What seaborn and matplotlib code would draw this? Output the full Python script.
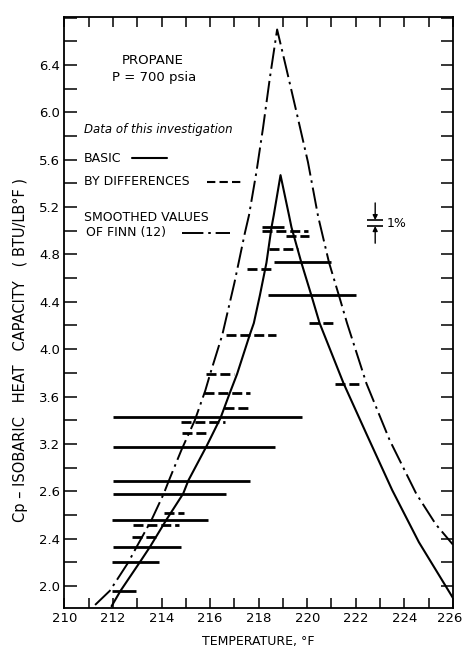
import numpy as np
import pandas as pd
import matplotlib
matplotlib.use("Agg")
import matplotlib.pyplot as plt
import matplotlib.transforms as mtransforms
from matplotlib.ticker import MultipleLocator
import seaborn as sns

# ---------------- data ----------------
x_ticks = [210, 212, 214, 216, 218, 220, 222, 224, 226]
x_tick_labels = ["210", "212", "214", "216", "218", "220", "222", "224", "226"]
y_ticks = [2.0, 2.4, 2.8, 3.2, 3.6, 4.0, 4.4, 4.8, 5.2, 5.6, 6.0, 6.4]
y_tick_labels = ["2.0", "2.4", "2.6", "3.2", "3.6", "4.0", "4.4", "4.8", "5.2", "5.6", "6.0", "6.4"]

# smoothed curve through data of this investigation (solid)
basic_curve_temp = [211.94, 212.31, 213.10, 213.52, 214.20, 214.89, 215.10, 215.85, 216.43,
                    216.81, 217.11, 217.63, 217.80, 218.05, 218.32, 218.53, 218.62, 218.90,
                    219.25, 219.35, 219.76, 220.17, 220.51, 221.50, 222.45, 223.50, 224.60, 226.00]
basic_curve_cp = [1.83, 1.96, 2.20, 2.33, 2.56, 2.78, 2.89, 3.18, 3.42,
                  3.63, 3.79, 4.12, 4.22, 4.455, 4.73, 5.03, 5.13, 5.47,
                  5.13, 5.03, 4.73, 4.455, 4.22, 3.71, 3.28, 2.81, 2.37, 1.90]

# smoothed values of Finn (12) (dash-dot)
finn_curve_temp = [211.26, 211.87, 212.63, 212.97, 213.59, 214.09, 214.30, 214.82, 215.37,
                   215.80, 216.00, 216.50, 217.00, 217.43, 217.60, 217.91, 218.18, 218.46,
                   218.76, 219.14, 219.56, 220.03, 220.45, 220.90, 221.34, 221.64, 222.44,
                   223.40, 224.49, 225.30, 226.00]
finn_curve_cp = [1.84, 1.96, 2.20, 2.33, 2.56, 2.78, 2.89, 3.15, 3.40,
                 3.65, 3.79, 4.12, 4.56, 4.98, 5.13, 5.50, 5.87, 6.29,
                 6.70, 6.37, 6.00, 5.58, 5.12, 4.73, 4.43, 4.22, 3.71,
                 3.23, 2.78, 2.52, 2.35]

# BASIC data bars (solid)
basic_bar_cp = [3.424, 3.176, 2.889, 2.776, 2.557, 2.326, 2.202, 1.957, 4.733, 4.455, 5.03]
basic_bar_t_low = [211.98, 212.0, 212.0, 212.0, 211.97, 212.0, 211.97, 211.97, 218.62, 218.39, 218.14]
basic_bar_t_high = [219.8, 218.66, 217.66, 216.65, 215.92, 214.78, 213.89, 212.93, 220.99, 222.02, 219.05]

# BY DIFFERENCES data bars (dashed)
diff_bar_cp = [5.00, 4.958, 4.85, 4.677, 4.223, 4.122, 3.79, 3.705, 3.632, 3.50, 3.382, 3.29,
               2.613, 2.512, 2.416]
diff_bar_t_low = [218.14, 219.11, 218.43, 217.52, 220.06, 216.65, 215.85, 221.14, 215.74, 216.56,
                  214.78, 214.85, 214.10, 212.83, 212.77]
diff_bar_t_high = [220.03, 220.07, 219.62, 218.59, 221.13, 218.70, 216.98, 222.16, 217.66, 217.70,
                   216.60, 215.88, 214.92, 214.72, 213.82]

# 1 % scale marker
one_pct_cp = [5.04, 5.09]
one_pct_t = [222.48, 223.12]

# ---------------- style ----------------
sns.set_style("ticks")
plt.rcParams['font.family'] = ['DejaVu Sans']
plt.rcParams.update({
    'axes.edgecolor': 'black', 'text.color': 'black', 'axes.labelcolor': 'black',
    'xtick.color': 'black', 'ytick.color': 'black',
    'xtick.labelcolor': 'black', 'ytick.labelcolor': 'black',
})

fig = plt.figure(figsize=(4.64, 6.48), dpi=100)
ax = fig.add_axes([0.139, 0.0617, 0.837, 0.912])

basic_df = pd.DataFrame({"T": basic_curve_temp, "Cp": basic_curve_cp})
finn_df = pd.DataFrame({"T": finn_curve_temp, "Cp": finn_curve_cp})

sns.lineplot(data=basic_df, x="T", y="Cp", ax=ax, color="black", lw=1.5,
             estimator=None, sort=False)
sns.lineplot(data=finn_df, x="T", y="Cp", ax=ax, color="black", lw=1.4,
             estimator=None, sort=False, linestyle=(0, (11, 2.5, 1.3, 2.5)))

ax.hlines(basic_bar_cp, basic_bar_t_low, basic_bar_t_high, colors="black", lw=2.0)
ax.hlines(diff_bar_cp, diff_bar_t_low, diff_bar_t_high, colors="black", lw=2.0,
          linestyles=[(0, (3.6, 1.4))])

# 1% marker
ax.hlines(one_pct_cp, one_pct_t[0], one_pct_t[1], colors="black", lw=1.2)
xm = (one_pct_t[0] + one_pct_t[1]) / 2
ax.annotate("", xy=(xm, one_pct_cp[1]), xytext=(xm, 5.235),
            arrowprops=dict(arrowstyle="-|>", color="black", lw=1.0, mutation_scale=7,
                            shrinkA=0, shrinkB=0))
ax.annotate("", xy=(xm, one_pct_cp[0]), xytext=(xm, 4.895),
            arrowprops=dict(arrowstyle="-|>", color="black", lw=1.0, mutation_scale=7,
                            shrinkA=0, shrinkB=0))
ax.text(223.27, 5.065, "1%", fontsize=9, ha="left", va="center")

# axes
ax.set_xlim(210, 226)
ax.set_ylim(1.814, 6.805)
ax.set_xticks(x_ticks, x_tick_labels)
ax.set_yticks(y_ticks, y_tick_labels)
ax.xaxis.set_minor_locator(MultipleLocator(1))
ax.yaxis.set_minor_locator(MultipleLocator(0.2))
ax.tick_params(which="both", direction="in", width=1.1, color="black",
               top=True, right=True, bottom=True, left=True,
               labeltop=False, labelright=False)
ax.tick_params(axis="x", which="both", length=7.5)
ax.tick_params(axis="y", which="both", length=9)
ax.tick_params(which="major", labelsize=9.5, pad=3)
for sp in ax.spines.values():
    sp.set_linewidth(1.3)
    sp.set_color("black")

# keep the last x tick label inside the figure
last_lbl = ax.get_xticklabels()[-1]
last_lbl.set_transform(last_lbl.get_transform() +
                       mtransforms.ScaledTranslation(-3 / 100, 0, fig.dpi_scale_trans))

ax.set_xlabel("TEMPERATURE, °F", fontsize=9, va="center")
ax.xaxis.set_label_coords(0.5, -0.0575)
ax.set_ylabel("Cp – ISOBARIC   HEAT   CAPACITY   ( BTU/LB°F )", fontsize=10.5,
              va="center", ha="center")
ax.yaxis.set_label_coords(-0.1145, 0.437)

# annotation block
ax.text(0.227, 0.927, "PROPANE", transform=ax.transAxes, fontsize=9.5, ha="center", va="center")
ax.text(0.230, 0.897, "P = 700 psia", transform=ax.transAxes, fontsize=9.5, ha="center", va="center")
ax.text(0.050, 0.810, "Data of this investigation", transform=ax.transAxes, fontsize=8.5,
        style="italic", ha="left", va="center")
ax.text(0.050, 0.761, "BASIC", transform=ax.transAxes, fontsize=9, ha="left", va="center")
ax.plot([0.174, 0.264], [0.761, 0.761], transform=ax.transAxes, color="black", lw=1.5)
ax.text(0.050, 0.721, "BY DIFFERENCES", transform=ax.transAxes, fontsize=9, ha="left", va="center")
ax.plot([0.367, 0.459], [0.721, 0.721], transform=ax.transAxes, color="black", lw=1.5,
        linestyle=(0, (4, 2)))
ax.text(0.050, 0.660, "SMOOTHED VALUES", transform=ax.transAxes, fontsize=9, ha="left", va="center")
ax.text(0.055, 0.635, "OF FINN (12)", transform=ax.transAxes, fontsize=9, ha="left", va="center")
ax.plot([0.302, 0.426], [0.635, 0.635], transform=ax.transAxes, color="black", lw=1.4,
        linestyle=(0, (11, 2.5, 1.3, 2.5)))

fig.savefig("out.png", dpi=100)
